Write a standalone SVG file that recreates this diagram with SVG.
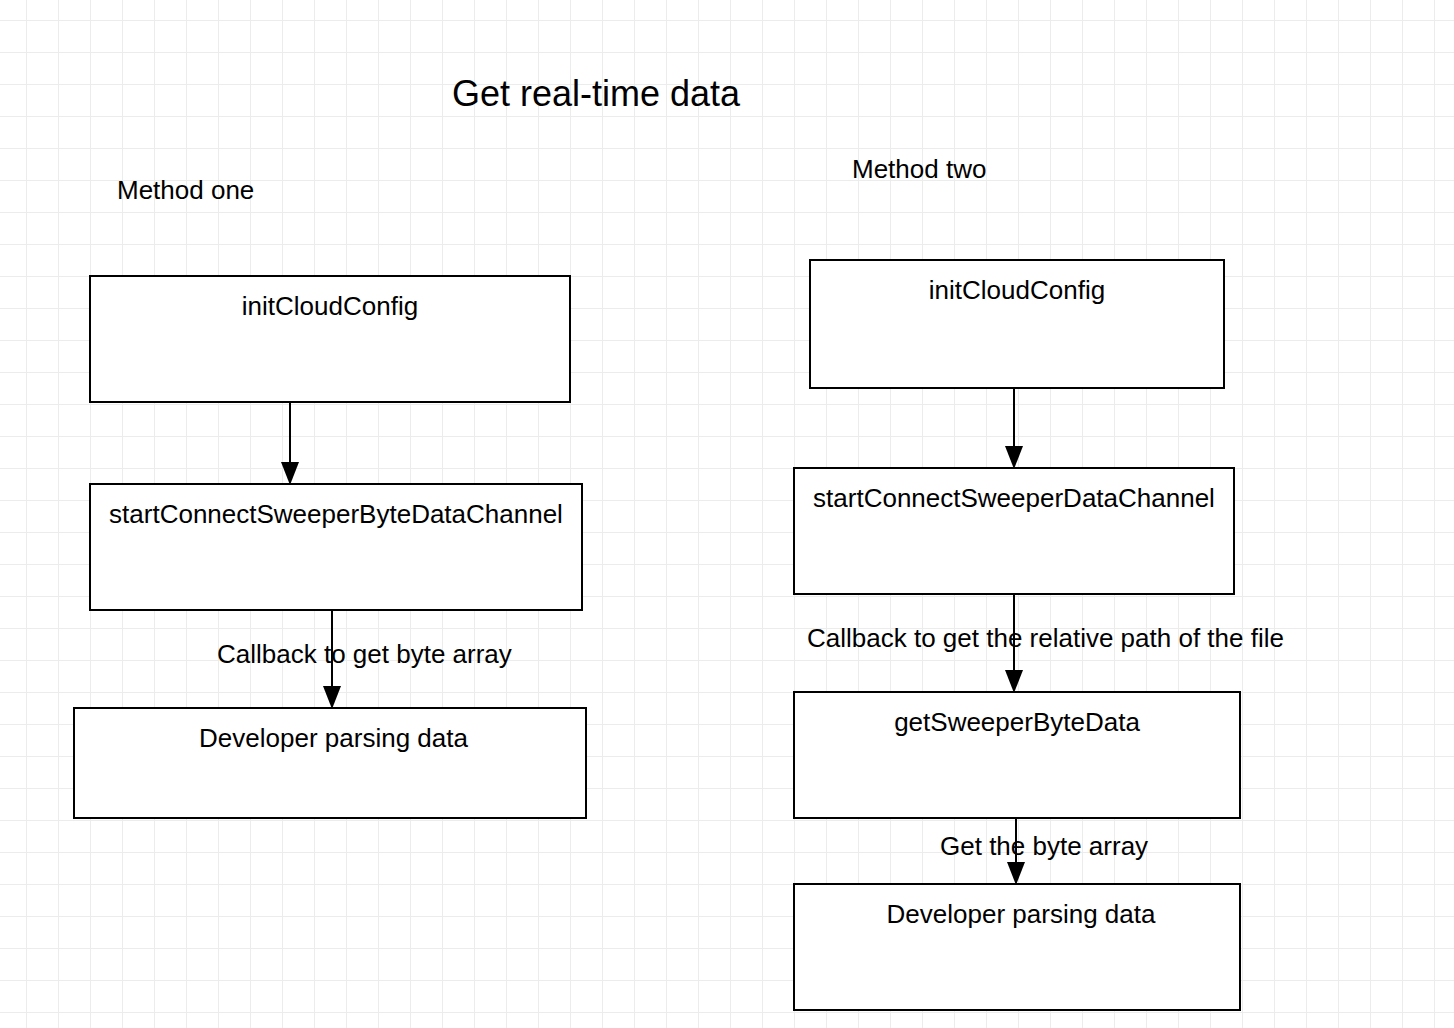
<svg xmlns="http://www.w3.org/2000/svg" width="1454" height="1028" viewBox="0 0 1454 1028">
<style>
text{font-family:"Liberation Sans",Arial,sans-serif;fill:#000}
.t{font-size:26px}
.c{text-anchor:middle}
.box{fill:#fff;stroke:#000;stroke-width:2}
.edge{stroke:#000;stroke-width:2;fill:none}
.head{fill:#000}
</style>
<defs>
<pattern id="grid" x="26" y="20" width="32" height="32" patternUnits="userSpaceOnUse">
<path d="M0.5 0 V32 M0 0.5 H32" stroke="#ececec" stroke-width="1" fill="none"/>
</pattern>
</defs>
<rect width="1454" height="1028" fill="#fff"/>
<rect width="1454" height="1028" fill="url(#grid)"/>

<g id="title"><text x="452" y="106" font-size="36">Get real-time data</text></g>
<g id="label-method-one"><text class="t" x="117" y="198.5">Method one</text></g>
<g id="label-method-two"><text class="t" x="852" y="178">Method two</text></g>

<g id="connectors">
<path class="edge" d="M290 402 V470"/>
<path class="head" d="M281 462 L299 462 L290 485 Z"/>
<path class="edge" d="M332 610 V694"/>
<path class="head" d="M323 686 L341 686 L332 709 Z"/>
<path class="edge" d="M1014 388 V454"/>
<path class="head" d="M1005 446 L1023 446 L1014 469 Z"/>
<path class="edge" d="M1014 594 V678"/>
<path class="head" d="M1005 670 L1023 670 L1014 693 Z"/>
<path class="edge" d="M1016 818 V870"/>
<path class="head" d="M1007 862 L1025 862 L1016 885 Z"/>
</g>

<g id="m1-init">
<rect class="box" x="90" y="276" width="480" height="126"/>
<text class="t c" x="330" y="315">initCloudConfig</text>
</g>
<g id="m1-start">
<rect class="box" x="90" y="484" width="492" height="126"/>
<text class="t c" x="336" y="523">startConnectSweeperByteDataChannel</text>
</g>
<g id="m1-dev">
<rect class="box" x="74" y="708" width="512" height="110"/>
<text class="t c" x="333.5" y="747">Developer parsing data</text>
</g>

<g id="m2-init">
<rect class="box" x="810" y="260" width="414" height="128"/>
<text class="t c" x="1017" y="299">initCloudConfig</text>
</g>
<g id="m2-start">
<rect class="box" x="794" y="468" width="440" height="126"/>
<text class="t c" x="1014" y="507">startConnectSweeperDataChannel</text>
</g>
<g id="m2-get">
<rect class="box" x="794" y="692" width="446" height="126"/>
<text class="t c" x="1017" y="731">getSweeperByteData</text>
</g>
<g id="m2-dev">
<rect class="box" x="794" y="884" width="446" height="126"/>
<text class="t c" x="1021" y="923">Developer parsing data</text>
</g>

<g id="edge-labels">
<text class="t" x="217" y="663">Callback to get byte array</text>
<text class="t" x="807" y="647">Callback to get the relative path of the file</text>
<text class="t" x="940" y="855">Get the byte array</text>
</g>
</svg>
